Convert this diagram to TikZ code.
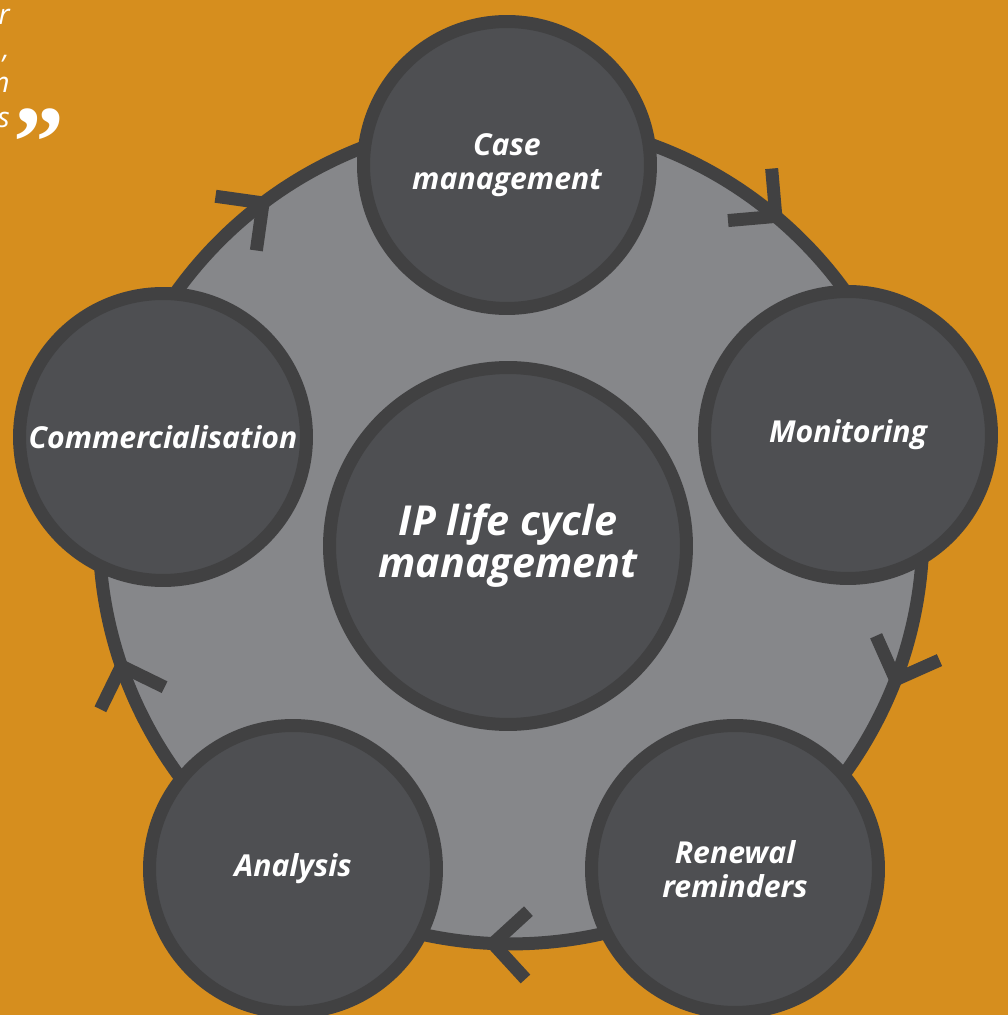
\documentclass[tikz,border=0pt]{standalone}
\usepackage{fontspec}
\setmainfont{Open Sans}
\newfontfamily\quotefont{Liberation Serif}
\usetikzlibrary{calc}

\definecolor{bgorange}{HTML}{D68E1E}
\definecolor{ringgray}{HTML}{86878A}
\definecolor{edgedark}{HTML}{414142}
\definecolor{stagefill}{HTML}{4E4F52}

\tikzset{
  stage/.style={circle, fill=stagefill, draw=edgedark, line width=7.4pt,
    minimum size=5.74cm, inner sep=0pt, text=white, align=center,
    font=\bfseries\itshape\fontsize{17.2}{19.5}\selectfont},
  chev/.style={draw=edgedark, line width=7.4pt, line join=bevel},
  quotetext/.style={text=white, inner sep=0pt, font=\itshape\fontsize{16}{19}\selectfont},
}

\begin{document}
\begin{tikzpicture}[x=0.02cm, y=0.02cm]
    \useasboundingbox (0,0) rectangle (1008,1015);
    \clip (0,0) rectangle (1008,1015);
    \fill[bgorange] (0,0) rectangle (1008,1015);

    %quote ends
    \node[quotetext, anchor=base east] (q1) at (10,990) {r};
    \node[quotetext, anchor=base east] (q2) at (10,956) {,};
    \node[quotetext, anchor=base east] (q3) at (10,922) {n};
    \node[quotetext, anchor=base east] (q4) at (10,887) {s};
    \node[text=white, inner sep=0pt, anchor=base west, font=\quotefont\bfseries\fontsize{58}{58}\selectfont] (qmark) at (13,838) {”};

    %cycle ring
    \node[circle, fill=ringgray, draw=edgedark, line width=7.4pt, minimum size=16.48cm] (ring) at (511,483) {};

    %arrow heads on the ring
    \begin{scope}[shift={(ring.center)}]
        \foreach \a in {50,-21,-92.5,199,127}
            \draw[chev] (\a:412) ++(\a+45:48) -- (\a:412) -- ++(\a+135:48);
    \end{scope}

    %stages
    \node[stage] (C) at (507,850) {Case\\management};
    \node[stage] (M) at (848,580) {Monitoring};
    \node[stage] (R) at (735,146) {Renewal\\reminders};
    \node[stage] (A) at (293,146) {Analysis};
    \node[stage] (CO) at (163,578) {Commercialisation};
    \node[stage, minimum size=7.14cm, font=\bfseries\itshape\fontsize{23.5}{24}\selectfont] (IP) at (508,469) {IP life cycle\\management};

\end{tikzpicture}
\end{document}
